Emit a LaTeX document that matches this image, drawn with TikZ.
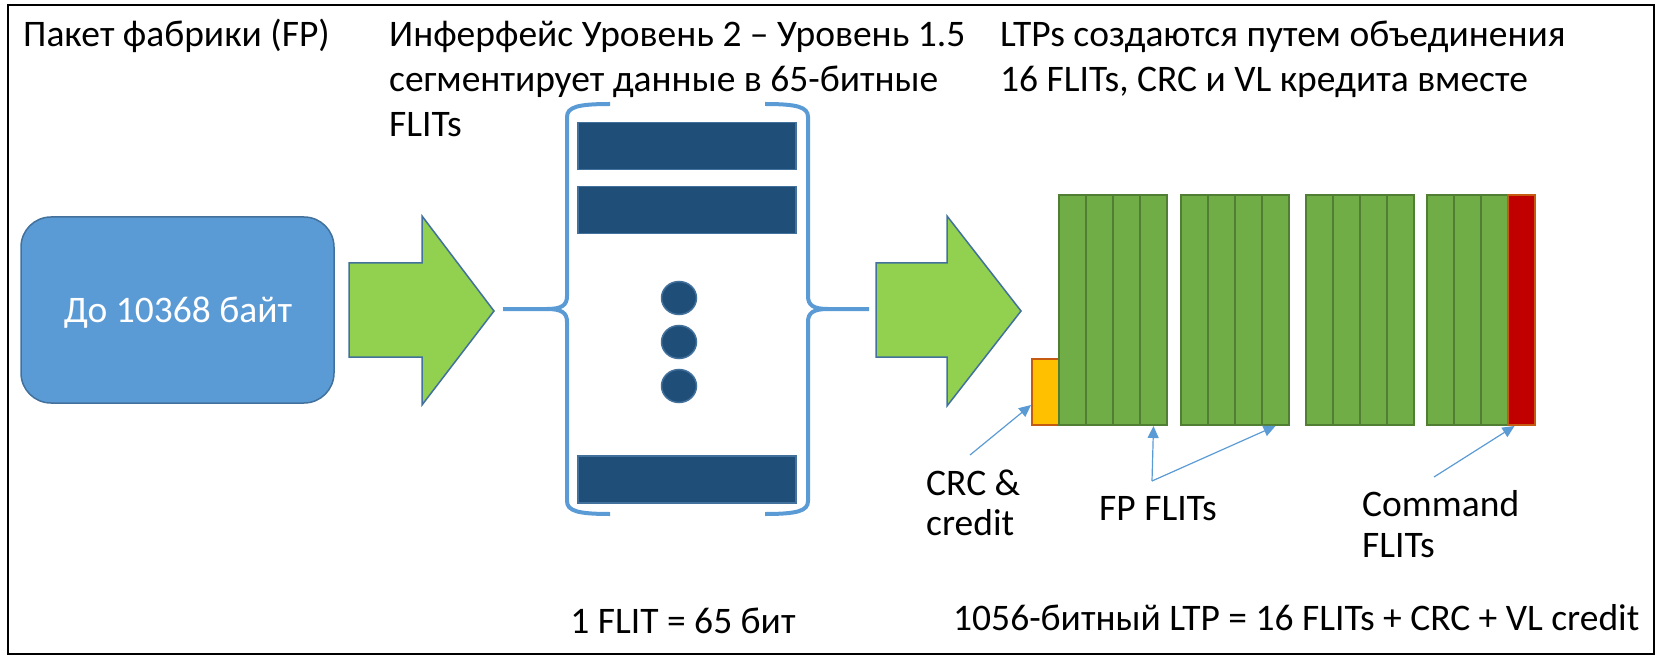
\documentclass[tikz,border=0pt]{standalone}
\usepackage{fontspec}
\setmainfont{Carlito}
\usetikzlibrary{arrows.meta,shapes.geometric}
\definecolor{boxblue}{HTML}{5B9BD5}
\definecolor{boxborder}{HTML}{41719C}
\definecolor{arrowgreen}{HTML}{92D050}
\definecolor{darkbar}{HTML}{1F4E79}
\definecolor{cellgreen}{HTML}{70AD47}
\definecolor{cellborder}{HTML}{507E32}
\definecolor{crcorange}{HTML}{FFC000}
\definecolor{orangeborder}{HTML}{C55A11}
\definecolor{cmdred}{HTML}{C00000}
\begin{document}
\begin{tikzpicture}[x=1pt,y=-1pt,
  lbl/.style={font=\fontsize{37.5}{45}\selectfont, inner sep=0pt, anchor=base west},
  bigarrow/.style={fill=arrowgreen, draw=boxborder, line width=1.5pt, line join=miter},
  brace/.style={draw=boxblue, line width=4pt},
  bar/.style={fill=darkbar, draw=boxborder, line width=1.5pt, inner sep=0pt, minimum width=218pt, minimum height=47pt, anchor=north west},
  dotb/.style={fill=darkbar, draw=boxborder, line width=1.5pt, ellipse, inner sep=0pt, minimum width=35pt, minimum height=33pt},
  cell/.style={fill=cellgreen, draw=cellborder, line width=2pt, inner sep=0pt, minimum width=27pt, minimum height=230pt, anchor=north west},
  ptr/.style={draw=boxblue, line width=1.2pt, -{Triangle[length=12pt,width=11pt]}}
]
\useasboundingbox (0,0) rectangle (1662,668);
\draw[line width=2.7pt] (8,5) rectangle (1654,654);

% texts
\node[lbl] (t1) at (23,47) {Пакет фабрики (FP)};
\node[lbl] (t2a) at (389,47) {Инферфейс Уровень 2 – Уровень 1.5};
\node[lbl] (t2b) at (389,92) {сегментирует данные в 65-битные};
\node[lbl] (t2c) at (389,137) {FLITs};
\node[lbl] (t3a) at (1000,47) {LTPs создаются путем объединения};
\node[lbl] (t3b) at (1000,92) {16 FLITs, CRC и VL кредита вместе};

% packet box
\node[fill=boxblue, draw=boxborder, line width=1.5pt, rounded corners=30pt,
      minimum width=313pt, minimum height=186pt, inner sep=0pt] (fp) at (177.5,310) {};
\node[lbl, anchor=base, text=white] (fptext) at (178,323) {До 10368 байт};

% big arrows
\draw[bigarrow] (349,263) -- (422,263) -- (422,216) -- (494,311) -- (422,405) -- (422,357) -- (349,357) -- cycle;
\draw[bigarrow] (876,263) -- (947,263) -- (947,216) -- (1021,311) -- (947,406) -- (947,357) -- (876,357) -- cycle;

% braces
\coordinate (lb) at (503,309);
\draw[brace] (lb) -- (547,309) .. controls (562,309) and (567,305) .. (567,296) -- (567,117)
   .. controls (567,107) and (578,104) .. (610,104);
\draw[brace] (547,309) .. controls (562,309) and (567,313) .. (567,322) -- (567,501)
   .. controls (567,511) and (578,514) .. (610,514);
\coordinate (rb) at (869,309);
\draw[brace] (rb) -- (828,309) .. controls (813,309) and (808,305) .. (808,296) -- (808,117)
   .. controls (808,107) and (797,104) .. (765,104);
\draw[brace] (828,309) .. controls (813,309) and (808,313) .. (808,322) -- (808,501)
   .. controls (808,511) and (797,514) .. (765,514);

% FLIT bars
\node[bar] (bar1) at (577,122) {};
\node[bar] (bar2) at (577,186) {};
\node[bar] (bar3) at (577,455) {};
\node[dotb] (d1) at (679,298) {};
\node[dotb] (d2) at (679,342) {};
\node[dotb] (d3) at (679,386) {};

% LTP
\node[cell, fill=crcorange, draw=orangeborder, minimum height=66pt] (crc) at (1031,358) {};
\foreach \g/\x in {1/1058,2/1180,3/1305,4/1426}{
  \foreach \c in {1,2,3,4}{
    \node[cell] (g\g c\c) at ({\x+27*(\c-1)},194) {};
  }
}
\node[cell, fill=cmdred, draw=orangeborder] (red) at (1507,194) {};

% labels
\node[lbl] (lcrc1) at (926,495) {CRC \&};
\node[lbl] (lcrc2) at (926,535) {credit};
\node[lbl] (lfp) at (1099,520) {FP FLITs};
\node[lbl] (lcmd1) at (1362,516) {Command};
\node[lbl] (lcmd2) at (1362,557) {FLITs};
\node[lbl, anchor=base] (lflit) at (683,633) {1 FLIT = 65 бит};
\node[lbl] (lltp) at (953,630) {1056-битный LTP = 16 FLITs + CRC + VL credit};

% pointers
\coordinate (crctail) at (970,455);
\coordinate (fptail) at (1152,481);
\coordinate (cmdtail) at (1434,477);
\draw[ptr] (crctail) -- ([yshift=21pt]crc.south west);
\draw[ptr] (fptail) -- (g1c4.south);
\draw[ptr] (fptail) -- (g2c4.south);
\draw[ptr] (cmdtail) -- ([xshift=-7pt]red.south);
\end{tikzpicture}
\end{document}
